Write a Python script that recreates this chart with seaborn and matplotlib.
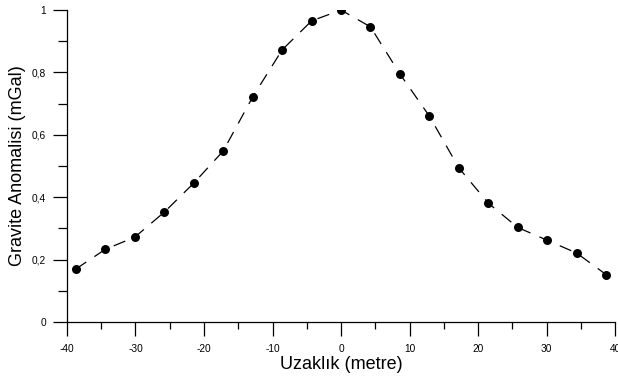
import matplotlib
matplotlib.use("Agg")
import matplotlib.pyplot as plt
import seaborn as sns
import pandas as pd
from matplotlib.ticker import MultipleLocator, FuncFormatter

distance = [-38.7, -34.4, -30.1, -25.8, -21.5, -17.2, -12.9, -8.6, -4.3, 0.0,
            4.3, 8.6, 12.9, 17.2, 21.5, 25.8, 30.1, 34.4, 38.7]
gravity = [0.170, 0.233, 0.272, 0.352, 0.445, 0.548, 0.721, 0.872, 0.965, 1.000,
           0.946, 0.795, 0.660, 0.494, 0.381, 0.303, 0.262, 0.221, 0.152]
x_ticks = [-40, -30, -20, -10, 0, 10, 20, 30, 40]
y_ticks = [0, 0.2, 0.4, 0.6, 0.8, 1.0]

df = pd.DataFrame({"x": distance, "y": gravity})

sns.set_theme(style="ticks")
plt.rcParams["font.family"] = ["Liberation Sans", "DejaVu Sans"]
plt.rcParams["lines.scale_dashes"] = False

fig = plt.figure(figsize=(6.18, 3.81), dpi=100)
ax = fig.add_axes([67 / 618, 59 / 381, 548 / 618, 312 / 381])

sns.lineplot(data=df, x="x", y="y", ax=ax, color="black", linewidth=0.9,
             linestyle=(0, (9, 7)))
sns.scatterplot(data=df, x="x", y="y", ax=ax, color="black", s=42,
                edgecolor="black", linewidth=0, zorder=3)

ax.set_xlim(-40, 40)
ax.set_ylim(0, 1)
ax.set_xticks(x_ticks)
ax.set_yticks(y_ticks)
ax.xaxis.set_minor_locator(MultipleLocator(5))
ax.yaxis.set_minor_locator(MultipleLocator(0.1))

def fmt(v, pos):
    s = f"{v:g}"
    return s.replace(".", ",")

ax.yaxis.set_major_formatter(FuncFormatter(fmt))
ax.xaxis.set_major_formatter(FuncFormatter(fmt))

for side in ["top", "right"]:
    ax.spines[side].set_visible(False)
for side in ["left", "bottom"]:
    ax.spines[side].set_linewidth(0.9)
    ax.spines[side].set_color("black")

ax.tick_params(axis="both", which="major", direction="out", length=10,
               width=0.9, color="black", labelsize=7.3, labelcolor="black")
ax.tick_params(axis="x", which="major", pad=6)
ax.tick_params(axis="y", which="major", pad=5)
ax.tick_params(axis="x", which="minor", direction="out", length=5, width=0.9, color="black")
ax.tick_params(axis="y", which="minor", direction="out", length=6.5, width=0.9, color="black")

ax.set_xlabel("Uzaklık (metre)", fontsize=13, color="black")
ax.set_ylabel("Gravite Anomalisi (mGal)", fontsize=13, color="black")
ax.xaxis.set_label_coords(0.5, -0.108)
ax.yaxis.set_label_coords(-0.074, 0.5)

fig.savefig("out.png", dpi=100)
